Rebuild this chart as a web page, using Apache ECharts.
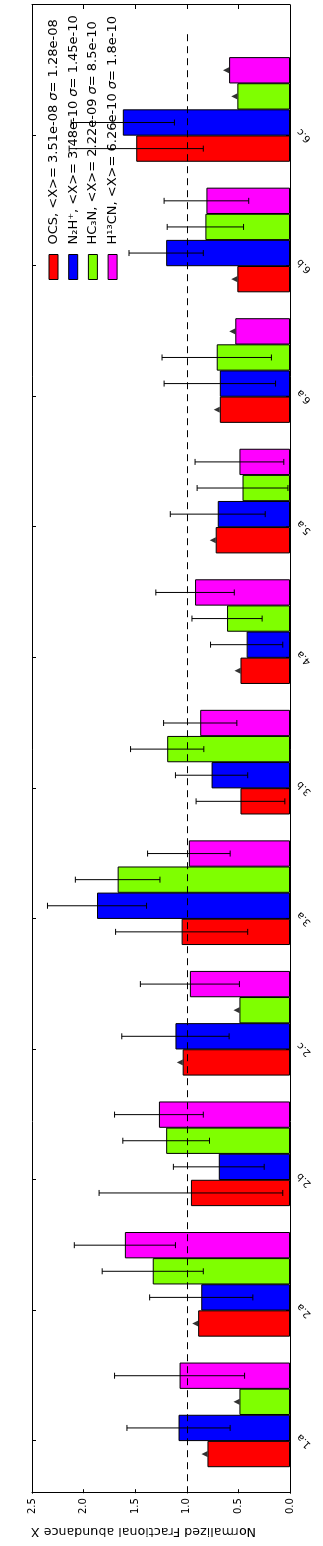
<!DOCTYPE html>
<html lang="en">
<head>
    <meta charset="UTF-8">
    <title>Normalized Fractional abundance</title>
    <script src="https://cdn.jsdelivr.net/npm/echarts@6/dist/echarts.min.js"></script>
    <style>
        html, body { margin: 0; padding: 0; overflow: hidden; background: #fff; }
    </style>
</head>
<body>
<!-- the chart is drawn landscape and turned 90deg to stand upright -->
<div id="main" style="position:absolute;left:0;top:0;width:1546px;height:323px;transform-origin:0 0;transform:translate(0,1546px) rotate(-90deg);"></div>
<script type="text/javascript">
    // categories (sources)
    var categories = ['1.a', '2.a', '2.b', '2.c', '3.a', '3.b', '4.a', '5.a', '6.a', '6.b', '6.c'];

    // normalized abundances, error bars (null = none) and upper limits (1 = triangle)
    var ocs      = [0.80, 0.89, 0.96, 1.04, 1.05, 0.48, 0.48, 0.72, 0.68, 0.51, 1.49];
    var ocsErr   = [null, null, 0.89, null, 0.64, 0.43, null, null, null, null, 0.65];
    var ocsUp    = [1, 1, 0, 1, 0, 0, 1, 1, 1, 1, 0];

    var n2h      = [1.08, 0.86, 0.69, 1.11, 1.87, 0.76, 0.42, 0.70, 0.68, 1.20, 1.62];
    var n2hErr   = [0.50, 0.50, 0.44, 0.52, 0.48, 0.35, 0.35, 0.46, 0.54, 0.36, 0.50];
    var n2hUp    = [0, 0, 0, 0, 0, 0, 0, 0, 0, 0, 0];

    var hc3n     = [0.49, 1.33, 1.20, 0.49, 1.67, 1.19, 0.61, 0.46, 0.71, 0.82, 0.51];
    var hc3nErr  = [null, 0.49, 0.42, null, 0.41, 0.355, 0.34, 0.44, 0.53, 0.37, null];
    var hc3nUp   = [1, 0, 0, 1, 0, 0, 0, 0, 0, 0, 1];

    var h13cn    = [1.07, 1.60, 1.27, 0.97, 0.98, 0.87, 0.92, 0.49, 0.53, 0.81, 0.59];
    var h13cnErr = [0.63, 0.49, 0.43, 0.48, 0.40, 0.355, 0.38, 0.43, null, 0.41, null];
    var h13cnUp  = [0, 0, 0, 0, 0, 0, 0, 0, 1, 0, 1];

    var refLevel = 1.0;

    var legendText = {
        'OCS':   'OCS, <X>= 3.51e-08 {i|σ}= 1.28e-08',
        'N2H+':  'N₂H⁺, <X>= 3.48e-10 {i|σ}= 1.45e-10',
        'HC3N':  'HC₃N, <X>= 2.22e-09 {i|σ}= 8.5e-10',
        'H13CN': 'H¹³CN, <X>= 6.26e-10 {i|σ}= 1.8e-10'
    };

    var groups = [
        {name: 'OCS',   color: '#ff0000', vals: ocs,   err: ocsErr,   up: ocsUp},
        {name: 'N2H+',  color: '#0000ff', vals: n2h,   err: n2hErr,   up: n2hUp},
        {name: 'HC3N',  color: '#7fff00', vals: hc3n,  err: hc3nErr,  up: hc3nUp},
        {name: 'H13CN', color: '#ff00ff', vals: h13cn, err: h13cnErr, up: h13cnUp}
    ];

    var myChart = echarts.init(document.getElementById('main'));

    var xMin = -0.4, xMax = 11.0, width = 0.2;
    var gridLeft = 40, gridRight = 5;
    var barPx = (myChart.getWidth() - gridLeft - gridRight) / (xMax - xMin) * width;
    var tickPos = categories.map(function (c, i) { return i; });

    function renderErr(params, api) {
        var x = api.value(0), v = api.value(1), e = api.value(2);
        var hi = api.coord([x, v + e]);
        var lo = api.coord([x, v - e]);
        var cap = 3;
        var st = {stroke: '#000', lineWidth: 1};
        return {
            type: 'group',
            children: [
                {type: 'line', shape: {x1: hi[0], y1: hi[1], x2: lo[0], y2: lo[1]}, style: st},
                {type: 'line', shape: {x1: hi[0] - cap, y1: hi[1], x2: hi[0] + cap, y2: hi[1]}, style: st},
                {type: 'line', shape: {x1: lo[0] - cap, y1: lo[1], x2: lo[0] + cap, y2: lo[1]}, style: st}
            ]
        };
    }

    var series = [];
    groups.forEach(function (g, k) {
        var off = -width / 2 + k * width;   // bar centre relative to tick
        series.push({
            name: g.name,
            type: 'bar',
            barWidth: barPx,
            barGap: '-100%',
            itemStyle: {color: g.color, borderColor: '#000', borderWidth: 1},
            data: g.vals.map(function (v, i) { return [i + off, v]; }),
            z: 2
        });
    });
    groups.forEach(function (g, k) {
        var off = -width / 2 + k * width;
        var errData = [];
        var upData = [];
        g.vals.forEach(function (v, i) {
            if (g.err[i] != null) errData.push([i + off, v, g.err[i]]);
            if (g.up[i]) upData.push([i + off, v]);
        });
        series.push({
            type: 'custom',
            renderItem: renderErr,
            encode: {x: 0, y: 1},
            data: errData,
            z: 4,
            silent: true
        });
        series.push({
            type: 'scatter',
            symbol: 'triangle',
            symbolSize: 6,
            symbolOffset: [0, -3],
            itemStyle: {color: '#000'},
            data: upData,
            z: 5,
            silent: true
        });
    });
    // dashed reference line
    series.push({
        type: 'scatter',
        data: [],
        z: 6,
        markLine: {
            silent: true,
            symbol: ['none', 'none'],
            label: {show: false},
            lineStyle: {color: '#000', width: 1, type: [7, 5]},
            data: [[{coord: [xMin, refLevel]}, {coord: [xMax - 0.2, refLevel]}]]
        }
    });

    var axisLineStyle = {show: true, onZero: false, lineStyle: {color: '#000', width: 1}};

    myChart.setOption({
        animation: false,
        backgroundColor: '#fff',
        textStyle: {fontFamily: 'DejaVu Sans'},
        grid: {left: gridLeft, right: gridRight, top: 32, bottom: 33},
        legend: {
            data: groups.map(function (g) { return g.name; }),
            orient: 'vertical',
            left: 1261,
            top: 41.5,
            itemWidth: 25,
            itemHeight: 9,
            itemGap: 5.7,
            icon: 'rect',
            itemStyle: {borderColor: '#000', borderWidth: 1},
            formatter: function (name) { return legendText[name]; },
            textStyle: {
                color: '#000', fontSize: 13, lineHeight: 14, padding: [0, 0, 0, 5],
                rich: {i: {fontStyle: 'italic', fontSize: 13, color: '#000'}}
            }
        },
        xAxis: [{
            type: 'value',
            min: xMin,
            max: xMax,
            position: 'bottom',
            axisLine: axisLineStyle,
            splitLine: {show: false},
            axisTick: {show: true, inside: true, length: 4, customValues: tickPos, lineStyle: {color: '#000'}},
            axisLabel: {
                customValues: tickPos,
                formatter: function (v) { return categories[Math.round(v)]; },
                rotate: 45,
                align: 'center',
                verticalAlign: 'middle',
                margin: 14,
                fontSize: 10,
                color: '#000'
            }
        }, {
            type: 'value',
            min: xMin,
            max: xMax,
            position: 'top',
            axisLine: axisLineStyle,
            splitLine: {show: false},
            axisTick: {show: true, inside: true, length: 4, customValues: tickPos, lineStyle: {color: '#000'}},
            axisLabel: {show: false}
        }],
        yAxis: [{
            type: 'value',
            min: 0,
            max: 2.5,
            interval: 0.5,
            position: 'left',
            axisLine: axisLineStyle,
            splitLine: {show: false},
            axisTick: {show: true, inside: true, length: 4, lineStyle: {color: '#000'}},
            axisLabel: {
                margin: 5,
                fontSize: 10,
                color: '#000',
                formatter: function (v) { return v.toFixed(1); }
            },
            name: 'Normalized Fractional abundance X',
            nameLocation: 'middle',
            nameGap: 26,
            nameRotate: 90,
            nameTextStyle: {fontSize: 12.7, color: '#000', padding: [0, 0, 0, 35]}
        }, {
            type: 'value',
            min: 0,
            max: 2.5,
            interval: 0.5,
            position: 'right',
            axisLine: axisLineStyle,
            splitLine: {show: false},
            axisTick: {show: true, inside: true, length: 4, lineStyle: {color: '#000'}},
            axisLabel: {show: false}
        }],
        series: series
    });
</script>
</body>
</html>
